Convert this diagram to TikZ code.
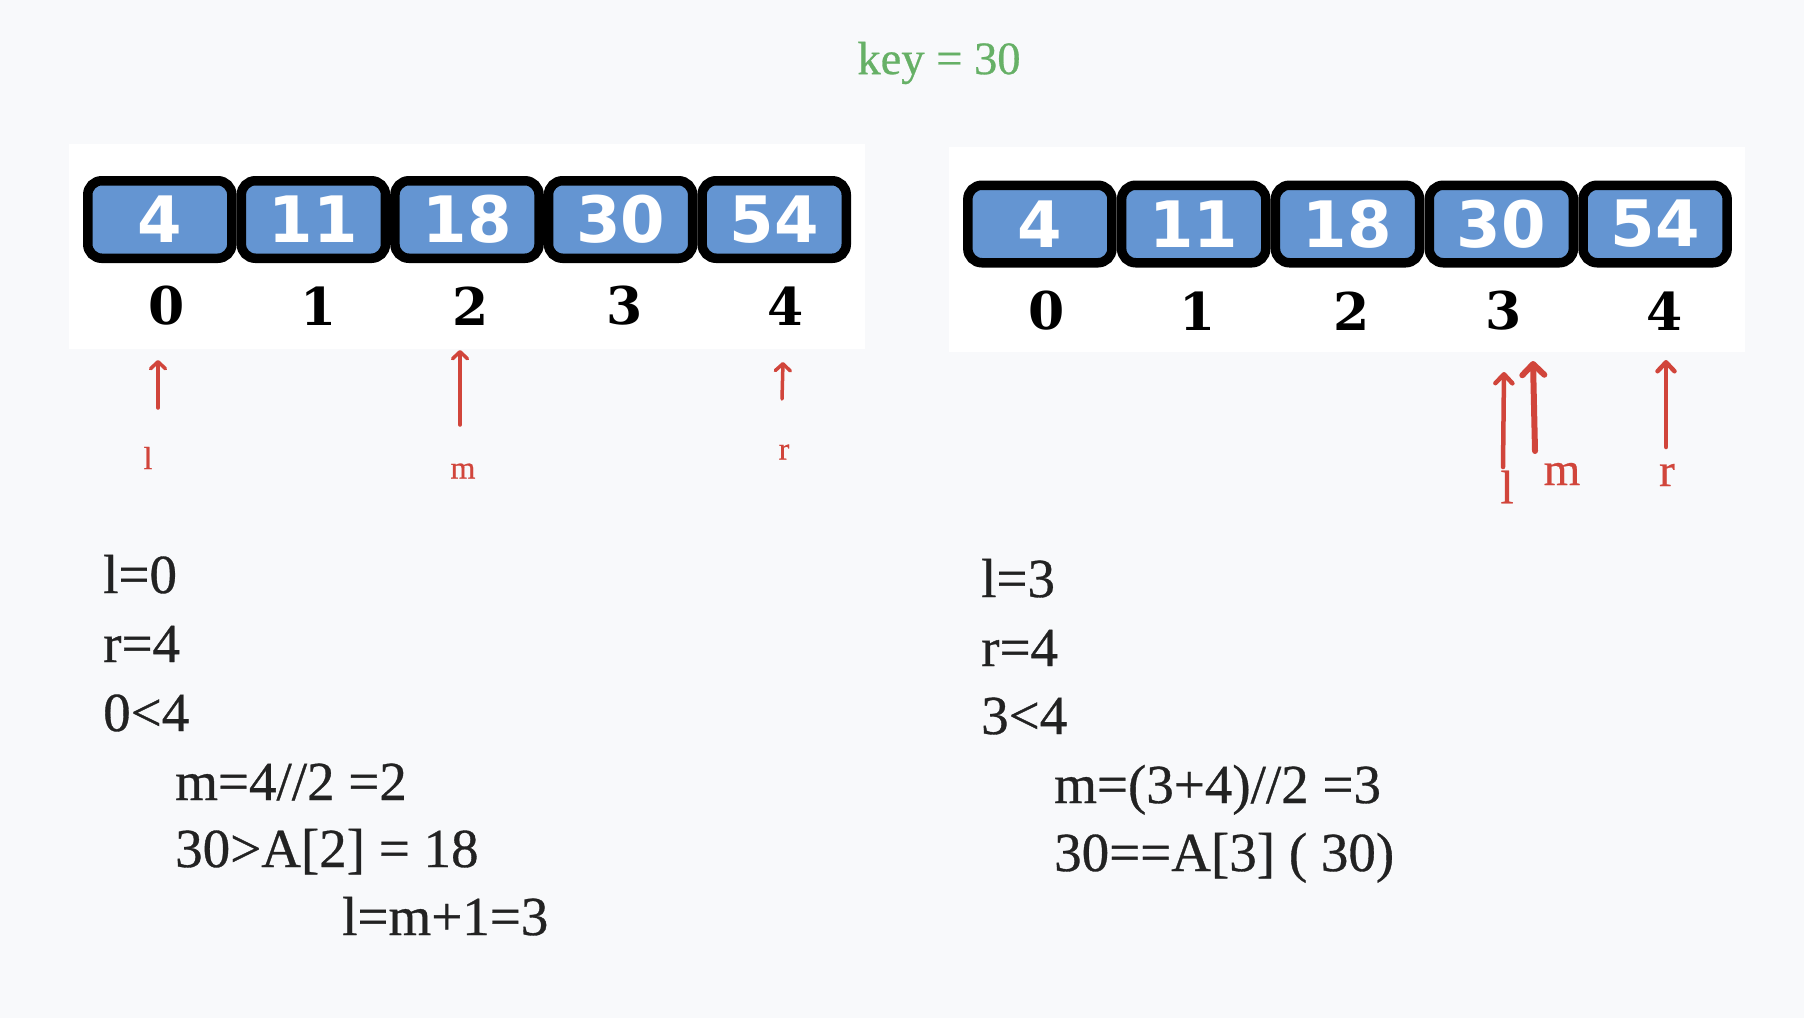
\documentclass[tikz,border=0pt]{standalone}
\usepackage{fontspec}
\setmainfont{Liberation Serif}
\newfontfamily\txtfont{Liberation Serif}[FakeBold=0.6]
\newfontfamily\boxfont{DejaVu Sans}
\newfontfamily\idxfont{DejaVu Serif}
\usetikzlibrary{arrows.meta}
\definecolor{bg}{HTML}{F8F9FB}
\definecolor{cellblue}{HTML}{6495D2}
\definecolor{redmark}{HTML}{D1453B}
\definecolor{keygreen}{HTML}{66B066}
\definecolor{ink}{HTML}{222222}
\tikzset{
  cell/.style={draw=black, fill=cellblue, line width=9.5pt, rounded corners=14pt,
    minimum width=144.1pt, minimum height=77.5pt, inner sep=0pt, text=white,
    font=\boxfont\bfseries\fontsize{64}{70}\selectfont},
  idx/.style={inner sep=0pt, text=black, font=\idxfont\bfseries\fontsize{52}{60}\selectfont},
  txt/.style={anchor=base west, inner sep=0pt, text=ink, font=\txtfont\fontsize{55}{66}\selectfont},
  lblsmall/.style={inner sep=0pt, text=redmark, font=\txtfont\fontsize{32}{36}\selectfont},
  lblbig/.style={inner sep=0pt, text=redmark, font=\txtfont\fontsize{47}{52}\selectfont},
  redarrow/.style={draw=redmark, line width=3.5pt, line cap=round,
    -{Straight Barb[length=7pt, width=15pt, round]}},
  redarrowthick/.style={draw=redmark, line width=4.5pt, line cap=round,
    -{Straight Barb[length=9pt, width=17pt, round]}},
  panel/.style={fill=white, draw=none}
}
\begin{document}
\begin{tikzpicture}[x=1pt, y=-1pt]
\useasboundingbox (0,0) rectangle (1804,1018);
\fill[bg] (0,0) rectangle (1804,1018);

% title
\node[inner sep=0pt, text=keygreen, font=\txtfont\fontsize{46.5}{50}\selectfont] (key) at (939,63) {key = 30};

% panels
\fill[panel] (69,144) rectangle (865,349);
\fill[panel] (949,147) rectangle (1745,352);

% left array
\node[cell] (L0) at (159.8,219.5) {4};
\node[cell] (L1) at (313.4,219.5) {11};
\node[cell] (L2) at (467.0,219.5) {18};
\node[cell] (L3) at (620.6,219.5) {30};
\node[cell] (L4) at (774.2,219.5) {54};
\node[idx] (Li0) at (167,306) {0};
\node[idx] (Li1) at (319,306) {1};
\node[idx] (Li2) at (471,306) {2};
\node[idx] (Li3) at (625,306) {3};
\node[idx] (Li4) at (786,306) {4};

% right array
\node[cell] (R0) at (1039.9,224) {4};
\node[cell] (R1) at (1193.7,224) {11};
\node[cell] (R2) at (1347.5,224) {18};
\node[cell] (R3) at (1501.3,224) {30};
\node[cell] (R4) at (1655.1,224) {54};
\node[idx] (Ri0) at (1047,311) {0};
\node[idx] (Ri1) at (1198,311) {1};
\node[idx] (Ri2) at (1352,311) {2};
\node[idx] (Ri3) at (1504,311) {3};
\node[idx] (Ri4) at (1665,311) {4};

% left pointers
\coordinate (la) at (158,408); \coordinate (lb) at (158,360);
\coordinate (ma) at (460,425); \coordinate (mb) at (460,350);
\coordinate (ra) at (782,399); \coordinate (rb) at (783,362);
\draw[redarrow] (la) -- (lb);
\draw[redarrow] (ma) -- (mb);
\draw[redarrow] (ra) -- (rb);
\node[lblsmall] (ll) at (148,458) {l};
\node[lblsmall] (lm) at (463,471) {m};
\node[lblsmall] (lr) at (784,452) {r};

% right pointers
\coordinate (Rla) at (1503,467); \coordinate (Rlb) at (1504,372);
\coordinate (Rma) at (1535,451); \coordinate (Rmb) at (1533,361);
\coordinate (Rra) at (1666,447); \coordinate (Rrb) at (1666,360);
\draw[redarrowthick] (Rla) -- (Rlb);
\draw[redarrowthick, line width=6pt, -{Straight Barb[length=11pt, width=22pt, round]}] (Rma) -- (Rmb);
\draw[redarrowthick] (Rra) -- (Rrb);
\node[lblbig] (Rll) at (1507,487) {l};
\node[lblbig] (Rlm) at (1562,474) {m};
\node[lblbig] (Rlr) at (1667,475) {r};

% left text
\node[txt] (t1) at (103,593) {l=0};
\node[txt] (t2) at (103,662) {r=4};
\node[txt] (t3) at (103,731) {0<4};
\node[txt] (t4) at (175,800) {m=4//2 =2};
\node[txt] (t5) at (175,867) {30>A[2] = 18};
\node[txt] (t6) at (342,935) {l=m+1=3};

% right text
\node[txt] (u1) at (981,597) {l=3};
\node[txt] (u2) at (981,666) {r=4};
\node[txt] (u3) at (981,734) {3<4};
\node[txt] (u4) at (1054,803) {m=(3+4)//2 =3};
\node[txt] (u5) at (1054,871) {30==A[3] ( 30)};
\end{tikzpicture}
\end{document}
